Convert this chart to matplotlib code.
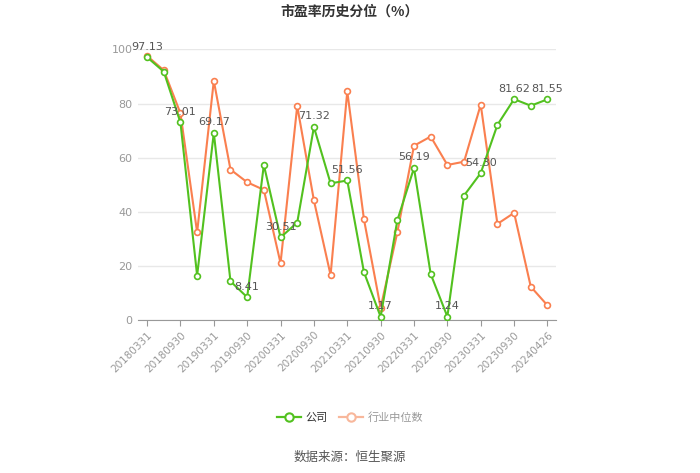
import matplotlib.pyplot as plt
from matplotlib.lines import Line2D

plt.rcParams['font.family'] = ['Noto Sans CJK SC', 'DejaVu Sans']

# quarterly report dates, last one is the latest date
dates = ['20180331', '20180630', '20180930', '20181231', '20190331', '20190630',
         '20190930', '20191231', '20200331', '20200630', '20200930', '20201231',
         '20210331', '20210630', '20210930', '20211231', '20220331', '20220630',
         '20220930', '20221231', '20230331', '20230630', '20230930', '20231231',
         '20240426']
company = [97.13, 91.8, 73.01, 16.4, 69.17, 14.3, 8.41, 57.3, 30.51, 36.0,
           71.32, 50.5, 51.56, 17.7, 1.17, 36.8, 56.19, 17.0, 1.24, 46.0,
           54.30, 72.1, 81.62, 79.2, 81.55]
industry = [97.6, 92.3, 76.4, 32.4, 88.4, 55.6, 50.9, 48.1, 21.0, 79.1,
            44.2, 16.6, 84.5, 37.2, 4.5, 32.4, 64.4, 67.8, 57.3, 58.5,
            79.6, 35.5, 39.6, 12.3, 5.4]

green = '#52c11f'
orange = '#fa7f4f'

fig = plt.figure(figsize=(7, 4.73), dpi=100)
ax = fig.add_axes([0.197, 0.3235, 0.597, 0.572])

x = list(range(len(dates)))
ax.plot(x, industry, color=orange, lw=1.5, marker='o', ms=4.2,
        mfc='white', mec=orange, mew=1.2, zorder=3)
ax.plot(x, company, color=green, lw=1.5, marker='o', ms=4.2,
        mfc='white', mec=green, mew=1.2, zorder=4)

# value labels on every other point of the company line
for i in range(0, len(dates), 2):
    ax.annotate('%.2f' % company[i], (x[i], company[i]), xytext=(0, 4),
                textcoords='offset points', ha='center', va='bottom',
                fontsize=8, color='#555555', family='DejaVu Sans', zorder=5)

ax.set_xlim(-0.55, 24.5)
ax.set_ylim(0, 100)
ax.set_yticks([0, 20, 40, 60, 80, 100])
ax.set_xticks(x[::2])
ax.set_xticklabels(dates[::2], rotation=45, ha='right', rotation_mode='anchor')
ax.tick_params(axis='x', colors='#999999', labelsize=7.5, length=4, pad=3)
ax.tick_params(axis='y', colors='#999999', labelsize=8, length=0, pad=4)
for lab in ax.get_xticklabels() + ax.get_yticklabels():
    lab.set_family('DejaVu Sans')
ax.grid(axis='y', color='#e8e8e8', lw=1)
ax.set_axisbelow(True)
for s in ['top', 'right', 'left']:
    ax.spines[s].set_visible(False)
ax.spines['bottom'].set_color('#999999')

fig.text(0.5, 0.975, '市盈率历史分位（%）', ha='center', va='center',
         fontsize=10, fontweight='bold', color='#333333')

handles = [Line2D([], [], color=green, lw=1.6, marker='o', ms=6, mfc='white', mew=1.5),
           Line2D([], [], color='#f8b79b', lw=1.6, marker='o', ms=6, mfc='white', mew=1.5)]
leg = fig.legend(handles, ['公司', '行业中位数'], loc='center', bbox_to_anchor=(0.5, 0.118),
                 ncol=2, frameon=False, fontsize=8, handlelength=2.2, columnspacing=1.0,
                 handletextpad=0.4)
leg.get_texts()[0].set_color('#333333')
leg.get_texts()[1].set_color('#999999')

fig.text(0.5, 0.032, '数据来源：恒生聚源', ha='center', va='center',
         fontsize=9, color='#555555')

fig.savefig('out.png', dpi=100)
